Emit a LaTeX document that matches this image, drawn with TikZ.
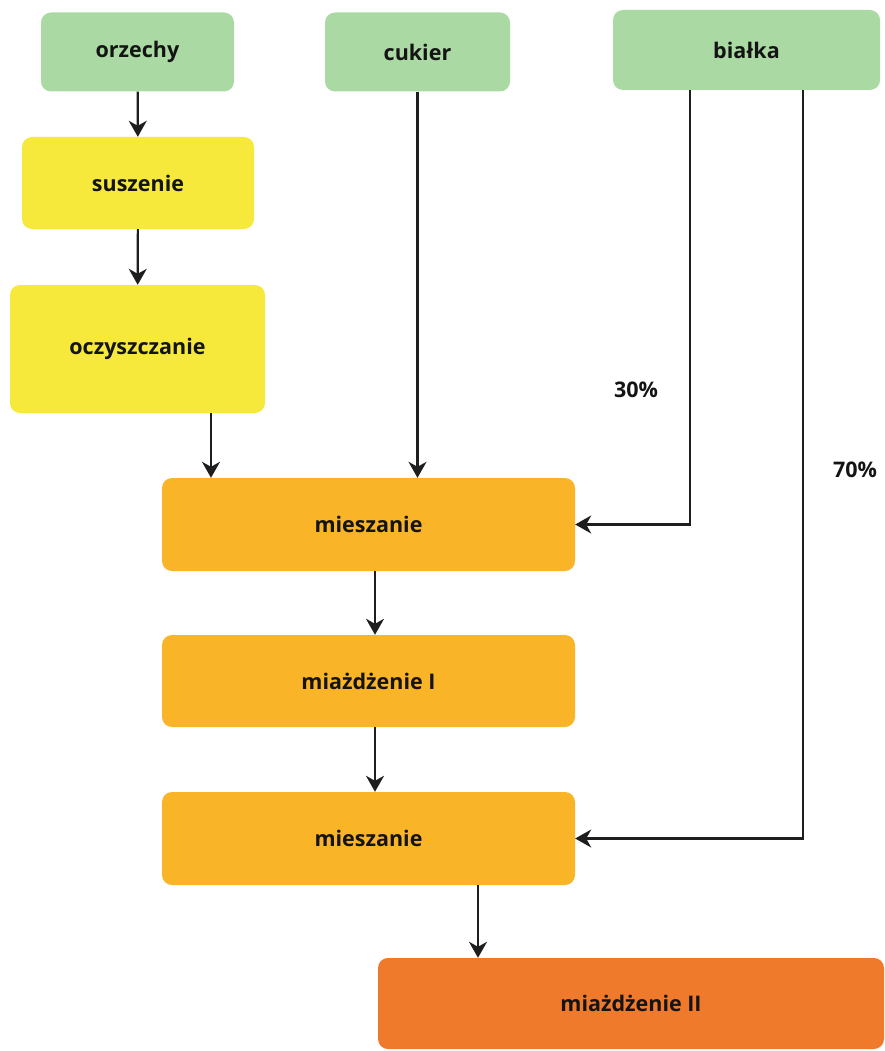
\documentclass[tikz,border=0pt]{standalone}
\usepackage{fontspec}
\setmainfont{Open Sans}
\usetikzlibrary{arrows.meta}
\definecolor{cgreen}{HTML}{AAD9A3}
\definecolor{cyellow}{HTML}{F6E93C}
\definecolor{corange}{HTML}{F9B428}
\definecolor{cred}{HTML}{F07A2C}
\definecolor{ctext}{HTML}{141414}
\definecolor{cline}{HTML}{1E1E1E}
\tikzset{
  box/.style={rounded corners=10pt, inner sep=0pt, text=ctext,
    font=\fontsize{21.5}{25}\selectfont\bfseries},
  green/.style={box, fill=cgreen},
  yellow/.style={box, fill=cyellow},
  orange/.style={box, fill=corange},
  redbox/.style={box, fill=cred},
  arr/.style={draw=cline, line width=2.2pt,
    -{Stealth[length=16pt, width=18pt, inset=5pt]}},
  pct/.style={text=ctext, font=\fontsize{21.5}{25}\selectfont\bfseries}
}
\begin{document}
\begin{tikzpicture}[x=1pt, y=-1pt]
\useasboundingbox (0,0) rectangle (884,1051);
\begin{scope}
\clip (0,0) rectangle (884,1051);
\node[green, minimum width=193pt, minimum height=79pt] (orz) at (137.5,52) {orzechy};
\node[green, minimum width=185pt, minimum height=79pt] (cuk) at (417.5,52) {cukier};
\node[green, minimum width=267pt, minimum height=80pt] (bia) at (746.5,50) {białka};
\node[yellow, minimum width=232pt, minimum height=92pt] (sus) at (138,183) {suszenie};
\node[yellow, minimum width=255pt, minimum height=128pt] (ocz) at (137.5,349) {oczyszczanie};
\node[orange, minimum width=413pt, minimum height=93pt] (mie1) at (368.5,524.5) {mieszanie};
\node[orange, minimum width=413pt, minimum height=92pt] (mia1) at (368.5,681) {miażdżenie I};
\node[orange, minimum width=413pt, minimum height=93pt] (mie2) at (368.5,838.5) {mieszanie};
\node[redbox, minimum width=506pt, minimum height=91pt] (mia2) at (631,1003.5) {miażdżenie II};
\end{scope}

\coordinate (xa) at (211,0);
\coordinate (xb) at (690,0);
\coordinate (xc) at (803,0);
\coordinate (xd) at (478,0);
\coordinate (xe) at (375,0);

\draw[arr] (orz) -- (sus);
\draw[arr] (sus) -- (ocz);
\draw[arr] (ocz.south -| xa) -- (mie1.north -| xa);
\draw[arr] (cuk.south) -- (cuk.south |- mie1.north);
\draw[arr] (bia.south -| xb) |- (mie1.east);
\draw[arr] (bia.south -| xc) |- (mie2.east);
\draw[arr] (mie1.south -| xe) -- (mia1.north -| xe);
\draw[arr] (mia1.south -| xe) -- (mie2.north -| xe);
\draw[arr] (mie2.south -| xd) -- (mia2.north -| xd);

\node[pct] (p30) at (636,390) {30\%};
\node[pct] (p70) at (855,470) {70\%};
\end{tikzpicture}
\end{document}
